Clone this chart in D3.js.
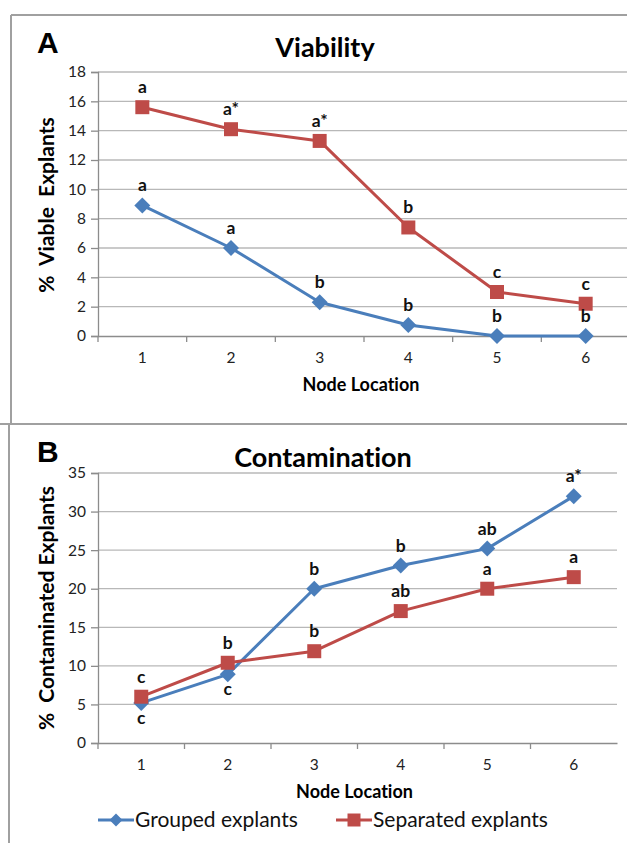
<!DOCTYPE html>
<html><head><meta charset="utf-8">
<script src="https://cdn.jsdelivr.net/npm/d3@7/dist/d3.min.js"></script>
<style>
body{margin:0;background:#fff;}
svg{display:block;}
text{font-family:Lato,"Open Sans",sans-serif;font-variant-ligatures:none;}
</style></head>
<body>
<svg id="chart" width="627" height="843"></svg>
<script>
const nodes = ["1","2","3","4","5","6"];
const seriesNames = ["Grouped explants","Separated explants"];
const viabilityGrouped = [8.9, 6.0, 2.3, 0.75, 0, 0];
const viabilitySeparated = [15.6, 14.1, 13.3, 7.4, 3.0, 2.2];
const viabilityGroupedLabels = ["a","a","b","b","b","b"];
const viabilitySeparatedLabels = ["a","a*","a*","b","c","c"];
const contamGrouped = [5.2, 8.9, 20.0, 23.0, 25.2, 32.0];
const contamSeparated = [6.0, 10.4, 11.9, 17.1, 20.0, 21.5];
const contamGroupedLabels = ["c","c","b","b","ab","a*"];
const contamGroupedLabelSide = ["below","below","above","above","above","above"];
const contamSeparatedLabels = ["c","b","b","ab","a","a"];
const viabilityTicks = [0,2,4,6,8,10,12,14,16,18];
const contamTicks = [0,5,10,15,20,25,30,35];

const BLUE = "#4a7ebb", RED = "#be4b48";
const svg = d3.select("#chart");

// panel borders
svg.append("path").attr("d","M11,15 H640 M11,15 V424 M0,424 H640")
  .attr("stroke","#a0a0a0").attr("stroke-width",2).attr("fill","none");
svg.append("path").attr("d","M9,424 V850")
  .attr("stroke","#a0a0a0").attr("stroke-width",2).attr("fill","none");

function panel(opt){
  const g = svg.append("g");
  const x = d3.scaleBand().domain(nodes).range([opt.left, opt.right]);
  const y = d3.scaleLinear().domain([0, opt.ticks[opt.ticks.length-1]]).range([opt.bottom, opt.top]);
  // gridlines
  g.append("g").selectAll("line").data(opt.ticks.filter(t=>t>0)).join("line")
    .attr("x1",opt.left).attr("x2",opt.right)
    .attr("y1",d=>y(d)).attr("y2",d=>y(d))
    .attr("stroke","#b8b8b8").attr("stroke-width",1.3);
  // y axis
  const ya = g.append("g").attr("transform",`translate(${opt.left},0)`)
    .call(d3.axisLeft(y).tickValues(opt.ticks).tickSize(7).tickPadding(5));
  ya.select(".domain").attr("stroke","#8c8c8c").attr("stroke-width",1.3);
  ya.selectAll(".tick line").attr("stroke","#8c8c8c").attr("stroke-width",1.3);
  ya.selectAll("text").attr("font-size",15.5).attr("fill","#222").style("font-family","Lato");
  // x axis
  const xa = g.append("g").attr("transform",`translate(0,${opt.bottom})`)
    .call(d3.axisBottom(x).tickSize(0).tickPadding(16));
  xa.select(".domain").attr("stroke","#8c8c8c").attr("stroke-width",1.3);
  xa.selectAll("text").attr("font-size",15.5).attr("fill","#222").style("font-family","Lato");
  // x tick marks at band boundaries
  g.append("g").selectAll("line").data(nodes).join("line")
    .attr("x1",d=>x(d)).attr("x2",d=>x(d))
    .attr("y1",opt.bottom).attr("y2",opt.bottom+6)
    .attr("stroke","#8c8c8c").attr("stroke-width",1.3);
  const cx = d => x(d) + x.bandwidth()/2;
  const line = d3.line().x((d,i)=>cx(nodes[i])).y(d=>y(d));
  // series
  opt.series.forEach(s=>{
    g.append("path").datum(s.values).attr("d",line)
      .attr("fill","none").attr("stroke",s.color).attr("stroke-width",3).attr("stroke-linejoin","round");
    const m = g.append("g").selectAll("path").data(s.values).join("path")
      .attr("transform",(d,i)=>`translate(${cx(nodes[i])},${y(d)})`)
      .attr("fill",s.color);
    if(s.shape==="square") m.attr("d","M-7,-7H7V7H-7Z");
    else m.attr("d","M0,-8L8,0L0,8L-8,0Z");
    g.append("g").selectAll("text").data(s.values).join("text")
      .attr("x",(d,i)=>cx(nodes[i]))
      .attr("y",(d,i)=> (s.side && s.side[i]==="below") ? y(d)+21 : y(d)-14)
      .attr("text-anchor","middle").attr("font-size",17.5).attr("font-weight","bold")
      .attr("fill","#111").text((d,i)=>s.labels[i]);
  });
  // titles
  g.append("text").attr("x",opt.titleX).attr("y",opt.titleY).attr("text-anchor","middle")
    .attr("font-size",27).attr("font-weight","bold").text(opt.title);
  g.append("text").attr("x",37).attr("y",opt.letterY)
    .style("font-family","'Liberation Sans',Arial,sans-serif")
    .attr("font-size",30).attr("font-weight","bold").text(opt.letter);
  g.append("text").attr("x",(opt.left+opt.right)/2 - 3).attr("y",opt.bottom+55).attr("text-anchor","middle")
    .attr("font-size",18).attr("font-weight","bold").text("Node Location");
  g.append("text").attr("transform",`translate(54,${opt.yTitleY}) rotate(-90)`).attr("text-anchor","middle")
    .attr("font-size",opt.yTitleSize).attr("font-weight","bold").attr("xml:space","preserve").text(opt.yTitle);
}

panel({left:98,right:630,top:72,bottom:336,ticks:viabilityTicks,title:"Viability",titleX:325,titleY:57,
  letter:"A",letterY:53,yTitle:"%  Viable  Explants",yTitleY:205,yTitleSize:21,
  series:[{values:viabilitySeparated,labels:viabilitySeparatedLabels,color:RED,shape:"square"},
          {values:viabilityGrouped,labels:viabilityGroupedLabels,color:BLUE,shape:"diamond"}]});

panel({left:98,right:617,top:473,bottom:743,ticks:contamTicks,title:"Contamination",titleX:323,titleY:467,
  letter:"B",letterY:462,yTitle:"%  Contaminated Explants",yTitleY:608,yTitleSize:21,
  series:[{values:contamGrouped,labels:contamGroupedLabels,side:contamGroupedLabelSide,color:BLUE,shape:"diamond"},
          {values:contamSeparated,labels:contamSeparatedLabels,color:RED,shape:"square"}]});

// legend
const legend = svg.append("g").attr("transform","translate(0,820)");
const leg = [{name:seriesNames[0],color:BLUE,shape:"diamond",x:98},{name:seriesNames[1],color:RED,shape:"square",x:336}];
leg.forEach(l=>{
  legend.append("line").attr("x1",l.x).attr("x2",l.x+36).attr("y1",0).attr("y2",0)
    .attr("stroke",l.color).attr("stroke-width",3);
  legend.append("path").attr("transform",`translate(${l.x+18},0)`)
    .attr("d",l.shape==="square"?"M-6.5,-6.5H6.5V6.5H-6.5Z":"M0,-6.5L6.5,0L0,6.5L-6.5,0Z").attr("fill",l.color);
  legend.append("text").attr("x",l.x+37).attr("y",7).attr("font-size",21).attr("fill","#111").text(l.name);
});
</script>
</body></html>
